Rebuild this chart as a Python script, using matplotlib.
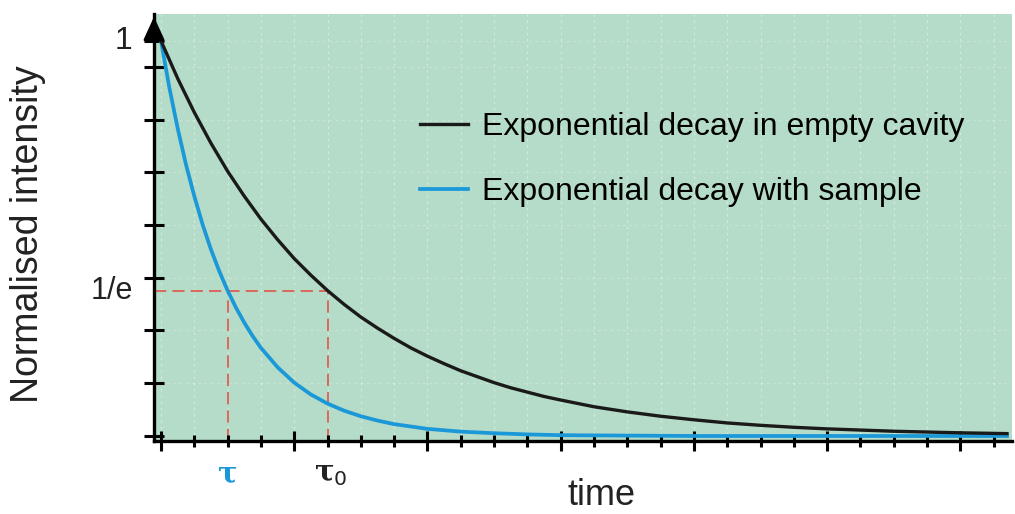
import numpy as np
import matplotlib
matplotlib.use("Agg")
import matplotlib.pyplot as plt

plt.rcParams['font.family'] = ['Liberation Sans', 'DejaVu Sans']

# time in units of one small tick on the axis
t_empty = [0, 0.5, 1, 1.5, 2, 2.5, 3, 3.5, 4, 4.5, 5, 5.5, 6, 6.5, 7, 7.5, 8, 8.5,
           9, 9.5, 10, 10.5, 11, 11.5, 12, 13, 14, 15, 16, 17, 18, 19, 20, 21, 22,
           23, 24, 25.4]
i_empty = [1.0, 0.905, 0.819, 0.741, 0.670, 0.607, 0.549, 0.497, 0.449, 0.407, 0.368,
           0.333, 0.301, 0.273, 0.247, 0.223, 0.202, 0.183, 0.165, 0.150, 0.135, 0.122,
           0.111, 0.100, 0.091, 0.074, 0.061, 0.050, 0.041, 0.033, 0.027, 0.022, 0.018,
           0.015, 0.012, 0.010, 0.008, 0.006]

t_sample = [0, 0.25, 0.5, 0.75, 1, 1.25, 1.5, 1.75, 2, 2.25, 2.5, 2.75, 3, 3.5, 4, 4.5,
            5, 5.5, 6, 6.5, 7, 7.5, 8, 9, 10, 11, 12, 14, 16, 25.4]
i_sample = [1.0, 0.882, 0.779, 0.687, 0.607, 0.535, 0.472, 0.417, 0.368, 0.325, 0.287,
            0.253, 0.223, 0.174, 0.135, 0.105, 0.082, 0.064, 0.050, 0.039, 0.030, 0.024,
            0.018, 0.011, 0.007, 0.004, 0.002, 0.001, 0.0, 0.0]

tau = 2
tau0 = 5
one_over_e = 0.368

x_ticks = list(range(26))
x_major = [0, 4, 8, 12, 16, 20, 24]
y_ticks = [0, 0.134, 0.267, 0.4, 0.534, 0.667, 0.8, 0.934, 1.0]

green = '#b5dcc8'
blue = '#1b98d8'
red = '#e4483f'

fig = plt.figure(figsize=(10.15, 5.14), dpi=100)
ax = fig.add_axes([154/1015, 73/514, 858/1015, 427/514])
ax.set_facecolor(green)

xmin, xmax = -0.21, 25.55
ymin, ymax = -0.0127, 1.068
ax.set_xlim(xmin, xmax)
ax.set_ylim(ymin, ymax)

# faint dotted grid
for x in x_ticks:
    ax.axvline(x, color='white', lw=0.9, ls=(0, (2, 3)), alpha=0.4, zorder=0)
for y in y_ticks[1:]:
    ax.axhline(y, color='white', lw=0.9, ls=(0, (2, 3)), alpha=0.25, zorder=0)

# 1/e guides
dash = (0, (8, 4))
ax.plot([xmin, tau0], [one_over_e, one_over_e], color=red, lw=1.1, ls=dash, zorder=1)
ax.plot([tau, tau], [ymin, one_over_e], color=red, lw=1.1, ls=dash, zorder=1)
ax.plot([tau0, tau0], [ymin, one_over_e], color=red, lw=1.1, ls=dash, zorder=1)

l1, = ax.plot(t_empty, i_empty, color='#1a1a1a', lw=2.4, zorder=3,
              label='Exponential decay in empty cavity')
l2, = ax.plot(t_sample, i_sample, color=blue, lw=2.7, zorder=2,
              label='Exponential decay with sample')

for s in ['top', 'right']:
    ax.spines[s].set_visible(False)
for s in ['left', 'bottom']:
    ax.spines[s].set_linewidth(2.4)
    ax.spines[s].set_color('black')

ax.set_xticks(x_major)
ax.set_xticks([x for x in x_ticks if x not in x_major], minor=True)
ax.tick_params(axis='x', which='major', direction='inout', length=15, width=2.2,
               labelbottom=False)
ax.tick_params(axis='x', which='minor', direction='inout', length=8, width=2.2)
ax.set_yticks(y_ticks)
ax.tick_params(axis='y', direction='inout', length=15, width=2.2, labelleft=False)

# arrow at the top of the intensity axis
ax.annotate('', xy=(0, 1.0), xytext=(0, 0.96), xycoords='axes fraction',
            arrowprops=dict(arrowstyle='-|>,head_length=0.7,head_width=0.32',
                            color='black', lw=2.2, mutation_scale=20),
            annotation_clip=False)

ytr = ax.get_yaxis_transform()
ax.text(-0.025, 1.0, '1', transform=ytr, ha='right', va='center', fontsize=23,
        color='#222222')
ax.text(-0.025, one_over_e, '1/e', transform=ytr, ha='right', va='center', fontsize=22,
        color='#222222')

xtr = ax.get_xaxis_transform()
ax.text(tau, -0.077, 'τ', transform=xtr, ha='center', va='center', fontsize=21,
        color=blue, family='DejaVu Serif', fontweight='bold')
ax.text(tau0 + 0.1, -0.077, 'τ$_0$', transform=xtr, ha='center', va='center',
        fontsize=21, color='#222222', family='DejaVu Serif', fontweight='bold')

ax.set_ylabel('Normalised intensity', fontsize=27, color='#222222')
ax.yaxis.set_label_coords(-0.147, 0.485)
ax.yaxis.label.set_va('center')
ax.set_xlabel('time', fontsize=26, color='#222222')
ax.xaxis.set_label_coords(0.522, -(505 - 441) / 427)
ax.xaxis.label.set_va('baseline')

ax.legend(handles=[l1, l2], loc='upper left', bbox_to_anchor=(420/1015, 1 - 112/514),
          bbox_transform=fig.transFigure, frameon=False, fontsize=23,
          handlelength=1.5, handletextpad=0.44, labelspacing=1.1,
          borderpad=0, borderaxespad=0)

fig.savefig('out.png', dpi=100)
